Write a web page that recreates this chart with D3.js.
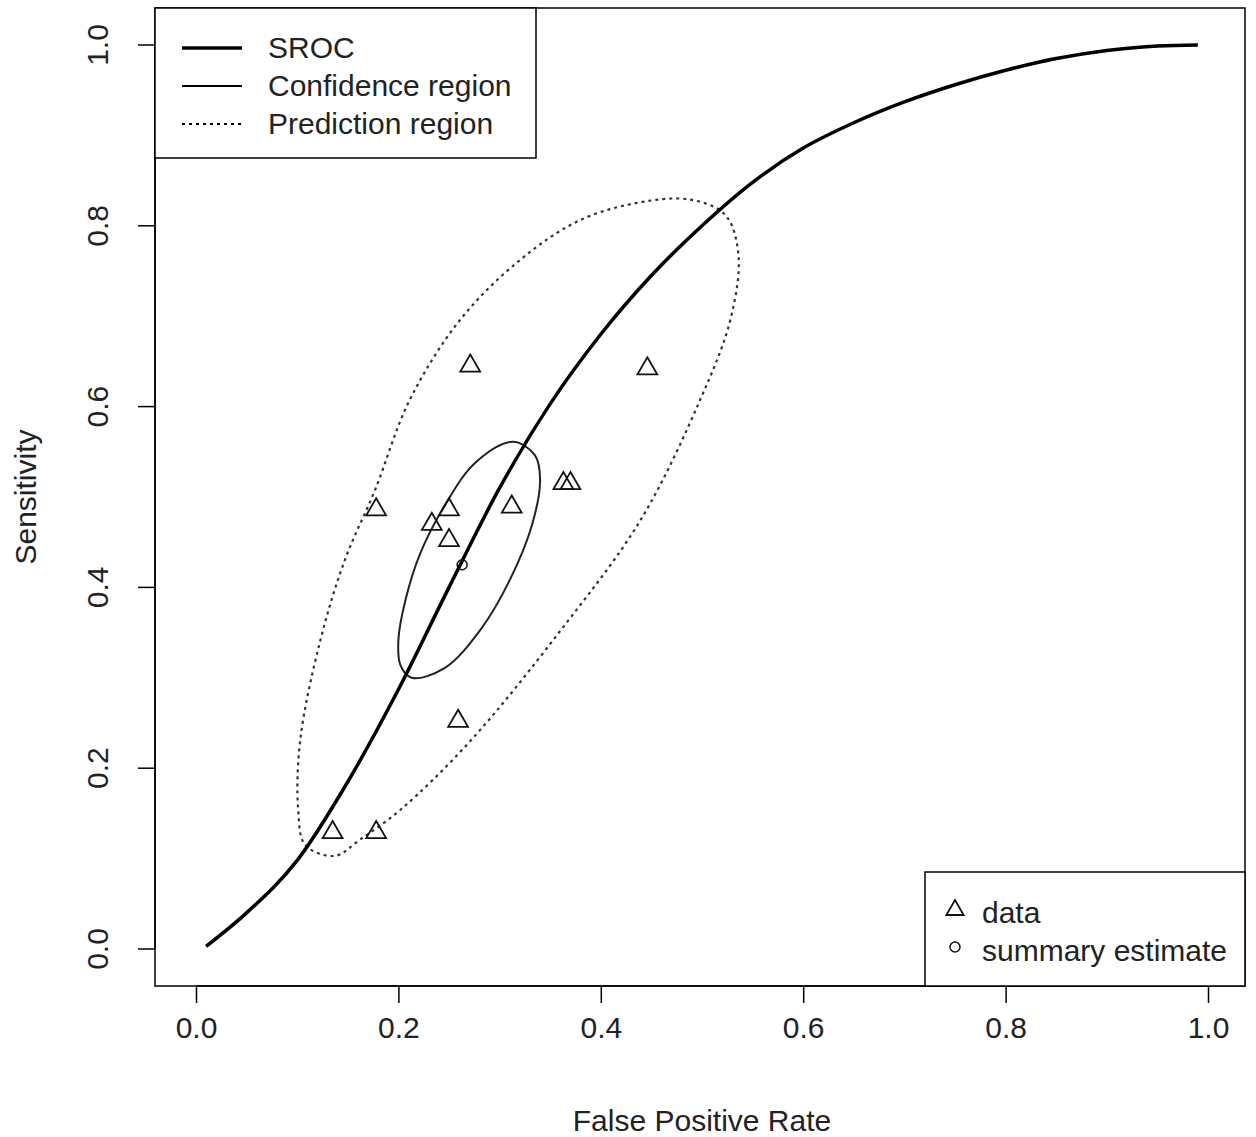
<!DOCTYPE html><html><head><script src="https://cdn.jsdelivr.net/npm/d3@7"></script>
<style>body{margin:0;background:#fff}svg{font-family:"Liberation Sans",Arial,sans-serif}</style></head><body>
<svg id="c" width="1256" height="1137"></svg>
<script>
const xTicks=[0,0.2,0.4,0.6,0.8,1.0], yTicks=[0,0.2,0.4,0.6,0.8,1.0];
const dataPts=[[0.135,0.129],[0.178,0.129],[0.178,0.486],[0.233,0.470],[0.250,0.486],[0.250,0.452],[0.259,0.252],[0.271,0.645],[0.312,0.489],[0.363,0.515],[0.370,0.515],[0.446,0.642]];
const summary=[0.263,0.425];
const sroc=[[0.01,0.003],[0.05,0.04],[0.1,0.098],[0.15,0.185],[0.2,0.287],[0.25,0.40],[0.3,0.51],[0.35,0.603],[0.4,0.68],[0.45,0.745],[0.5,0.80],[0.55,0.848],[0.6,0.886],[0.65,0.914],[0.7,0.937],[0.75,0.956],[0.8,0.972],[0.85,0.985],[0.9,0.994],[0.95,0.999],[0.99,1.0]];
const confReg=[[0.200,0.342],[0.207,0.386],[0.221,0.436],[0.246,0.491],[0.276,0.538],[0.313,0.561],[0.335,0.546],[0.340,0.519],[0.332,0.469],[0.310,0.408],[0.281,0.353],[0.246,0.311],[0.213,0.300],[0.202,0.314]];
const predReg=[[0.536,0.768],[0.528,0.696],[0.498,0.607],[0.439,0.474],[0.360,0.352],[0.271,0.230],[0.202,0.154],[0.162,0.121],[0.137,0.103],[0.108,0.115],[0.101,0.154],[0.103,0.231],[0.123,0.342],[0.147,0.430],[0.177,0.508],[0.211,0.607],[0.261,0.696],[0.320,0.762],[0.379,0.806],[0.439,0.826],[0.488,0.829],[0.523,0.812]];
const svg=d3.select("#c");
const x=d3.scaleLinear().domain([0,1]).range([196,1208]);
const y=d3.scaleLinear().domain([0,1]).range([949,45]);
const L=155,R=1245,T=8,B=986, FS=30;
svg.append("rect").attr("x",L).attr("y",T).attr("width",R-L).attr("height",B-T).attr("fill","none").attr("stroke","#000").attr("stroke-width",1.5);
const fmt=d3.format(".1f");
svg.append("g").attr("transform",`translate(0,${B})`).call(d3.axisBottom(x).tickValues(xTicks).tickFormat(fmt).tickSize(17).tickPadding(14))
 .call(g=>{g.select(".domain").attr("d",`M${x(0)},0H${x(1)}`).attr("stroke-width",1.5);g.selectAll("line").attr("stroke-width",1.5);g.selectAll("text").attr("font-size",FS).attr("font-family","Liberation Sans").attr("fill","#222");});
const ya=svg.append("g").attr("transform",`translate(${L},0)`).call(d3.axisLeft(y).tickValues(yTicks).tickFormat(fmt).tickSize(17).tickPadding(0));
ya.select(".domain").attr("d",`M0,${y(0)}V${y(1)}`).attr("stroke-width",1.5);
ya.selectAll("line").attr("stroke-width",1.5);
ya.selectAll(".tick").attr("transform",null);
ya.selectAll(".tick line").attr("transform",d=>`translate(0,${y(d)})`);
ya.selectAll("text").attr("font-size",FS).attr("font-family","Liberation Sans").attr("fill","#222").attr("text-anchor","middle").attr("x",0).attr("y",0).attr("dy",0)
 .attr("transform",d=>`translate(-55,${y(d)}) rotate(-90)`).attr("dominant-baseline","middle");
svg.append("text").attr("x",(x(0)+x(1))/2).attr("y",1131).attr("text-anchor","middle").attr("font-size",FS).attr("fill","#222").text("False Positive Rate");
svg.append("text").attr("transform",`translate(36,${(y(0)+y(1))/2}) rotate(-90)`).attr("text-anchor","middle").attr("font-size",FS).attr("fill","#222").text("Sensitivity");
const line=d3.line().x(d=>x(d[0])).y(d=>y(d[1]));
svg.append("path").attr("d",line.curve(d3.curveCatmullRomClosed)(predReg)).attr("fill","none").attr("stroke","#333").attr("stroke-width",2.2).attr("stroke-dasharray","3,4");
svg.append("path").attr("d",line.curve(d3.curveCatmullRomClosed)(confReg)).attr("fill","none").attr("stroke","#222").attr("stroke-width",2);
svg.append("path").attr("d",line.curve(d3.curveMonotoneX)(sroc)).attr("fill","none").attr("stroke","#000").attr("stroke-width",3.5);
const tri=d3.symbol().type(d3.symbolTriangle).size(170);
svg.selectAll(".tri").data(dataPts).join("path").attr("d",tri).attr("transform",d=>`translate(${x(d[0])},${y(d[1])})`).attr("fill","none").attr("stroke","#111").attr("stroke-width",1.8);
svg.append("circle").attr("cx",x(summary[0])).attr("cy",y(summary[1])).attr("r",5).attr("fill","none").attr("stroke","#111").attr("stroke-width",1.5);
const lg=svg.append("g");
lg.append("rect").attr("x",L).attr("y",T).attr("width",381).attr("height",150).attr("fill","#fff").attr("stroke","#000").attr("stroke-width",1.5);
const items=[["SROC",3.5,null],["Confidence region",2,null],["Prediction region",2,"3,4"]];
items.forEach((it,i)=>{const yy=48+i*38;
 lg.append("line").attr("x1",182).attr("x2",242).attr("y1",yy).attr("y2",yy).attr("stroke","#000").attr("stroke-width",it[1]).attr("stroke-dasharray",it[2]);
 lg.append("text").attr("x",268).attr("y",yy+10).attr("font-size",FS).attr("fill","#222").text(it[0]);});
const lg2=svg.append("g");
lg2.append("rect").attr("x",925).attr("y",872).attr("width",320).attr("height",114).attr("fill","#fff").attr("stroke","#000").attr("stroke-width",1.5);
lg2.append("path").attr("d",d3.symbol().type(d3.symbolTriangle).size(130)()).attr("transform","translate(955,910)").attr("fill","none").attr("stroke","#111").attr("stroke-width",1.8);
lg2.append("circle").attr("cx",955).attr("cy",947).attr("r",5).attr("fill","none").attr("stroke","#111").attr("stroke-width",1.5);
lg2.append("text").attr("x",982).attr("y",923).attr("font-size",FS).attr("fill","#222").text("data");
lg2.append("text").attr("x",982).attr("y",961).attr("font-size",FS).attr("fill","#222").text("summary estimate");
</script></body></html>
